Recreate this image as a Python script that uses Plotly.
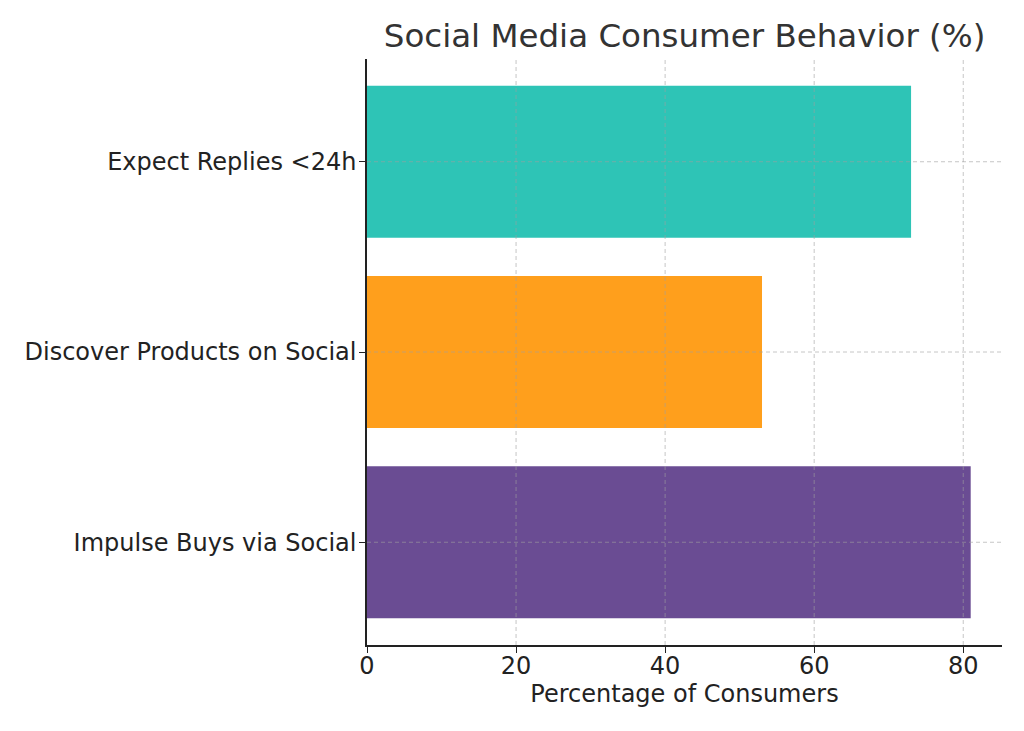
import plotly.graph_objects as go

categories = ["Impulse Buys via Social", "Discover Products on Social", "Expect Replies <24h"]
values = [81, 53, 73]
colors = ["#6A4C93", "#FF9F1C", "#2EC4B6"]
x_ticks = [0, 20, 40, 60, 80]

fig = go.Figure(go.Bar(
    x=values, y=categories, orientation="h",
    marker=dict(color=colors, line=dict(width=0)),
    width=0.8,
))

font = "DejaVu Sans"
grid_color = "rgba(160,160,160,0.6)"
grid_line = dict(color=grid_color, width=1, dash="4px,3px")

# grid drawn above bars, as in the reference
for t in x_ticks:
    if t > 0:
        fig.add_shape(type="line", xref="x", yref="paper", x0=t, x1=t, y0=0, y1=1,
                      line=grid_line, layer="above")
for c in categories:
    fig.add_shape(type="line", xref="paper", yref="y", x0=0, x1=1, y0=c, y1=c,
                  line=grid_line, layer="above")

fig.update_layout(
    width=1024, height=731,
    margin=dict(l=367, r=22, t=59, b=86),
    plot_bgcolor="white", paper_bgcolor="white",
    showlegend=False,
    title=dict(text="Social Media Consumer Behavior (%)", x=0.6685, xanchor="center",
               y=0.951, yanchor="middle",
               font=dict(family=font, size=32.5, color="#333333")),
    xaxis=dict(range=[0, 85.2], tickvals=x_ticks, showline=True, linecolor="#222222", linewidth=1.5,
               ticks="outside", ticklen=6, tickcolor="#222222", tickwidth=1.2,
               showgrid=False, zeroline=False, layer="above traces",
               ticklabelstandoff=-8,
               tickfont=dict(family=font, size=24, color="#222222"),
               title=dict(text="Percentage of Consumers", font=dict(family=font, size=24, color="#222222"), standoff=0)),
    yaxis=dict(range=[-0.54, 2.54], showline=True, linecolor="#222222", linewidth=1.5,
               ticks="outside", ticklen=6, tickcolor="#222222", tickwidth=1.2,
               showgrid=False, zeroline=False, layer="above traces",
               ticklabelstandoff=-2,
               tickfont=dict(family=font, size=24, color="#222222")),
)

fig.write_html("out.html")
